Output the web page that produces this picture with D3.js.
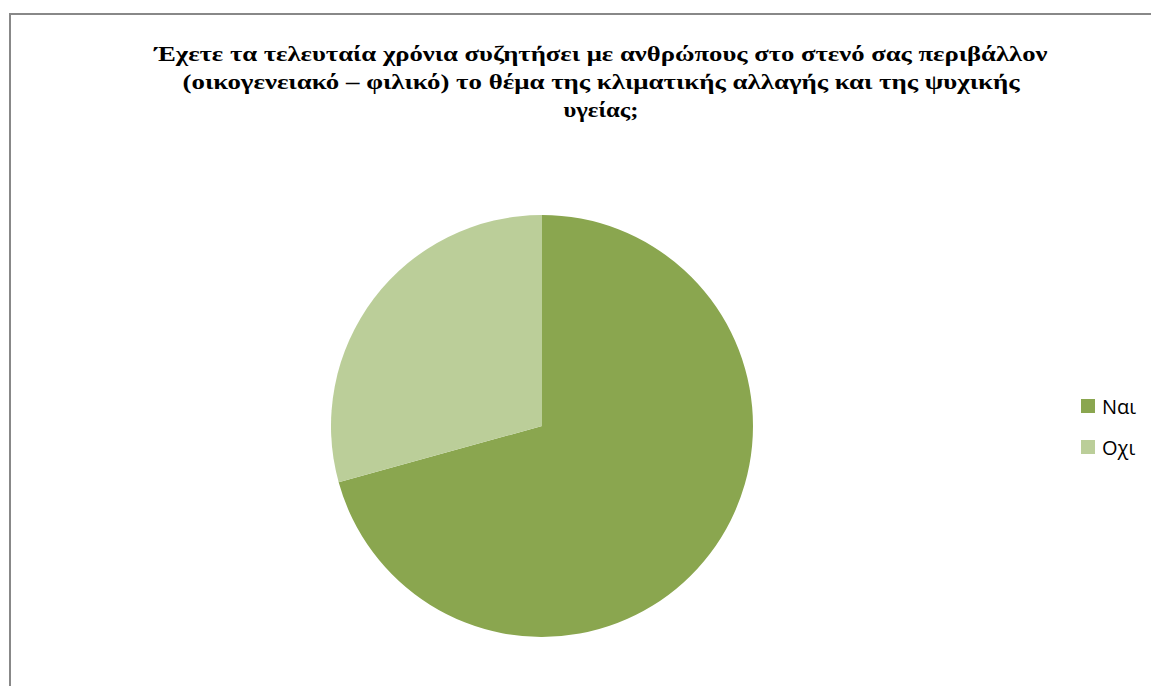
<!DOCTYPE html>
<html>
<head>
<meta charset="utf-8">
<script src="https://cdn.jsdelivr.net/npm/d3@7"></script>
<style>
  html, body { margin: 0; padding: 0; background: #fff; }
  svg { display: block; }
</style>
</head>
<body>
<svg id="chart" width="1151" height="686"></svg>
<script>
// Survey answers (share of respondents, %)
const categories = ["Ναι", "Οχι"];
const values = [70.7, 29.3];
const colors = ["#8aa64f", "#bbce99"];
const titleLines = [
  "Έχετε τα τελευταία χρόνια συζητήσει με ανθρώπους στο στενό σας περιβάλλον",
  "(οικογενειακό – φιλικό) το θέμα της κλιματικής αλλαγής και της ψυχικής",
  "υγείας;"
];
// rendered width of each title line
const titleWidths = [893, 837, 75];

const svg = d3.select("#chart");

// chart frame
svg.append("rect")
  .attr("x", 10).attr("y", 14)
  .attr("width", 1160).attr("height", 700)
  .attr("fill", "#fff")
  .attr("stroke", "#888").attr("stroke-width", 2);

// title
const title = svg.append("text")
  .attr("text-anchor", "middle")
  .attr("font-family", "'Liberation Serif', 'Times New Roman', serif")
  .attr("font-weight", "bold")
  .attr("font-size", 22)
  .attr("fill", "#000");
titleLines.forEach((line, i) => {
  title.append("tspan")
    .attr("x", 601)
    .attr("y", 61 + i * 28)
    .attr("textLength", titleWidths[i])
    .attr("lengthAdjust", "spacingAndGlyphs")
    .text(line);
});

// pie
const cx = 542, cy = 426, r = 211;
const pie = d3.pie().sort(null).value(d => d.v);
const arc = d3.arc().innerRadius(0).outerRadius(r);
const data = categories.map((c, i) => ({ c, v: values[i], col: colors[i] }));

svg.append("g")
  .attr("transform", `translate(${cx},${cy})`)
  .selectAll("path")
  .data(pie(data))
  .join("path")
  .attr("d", arc)
  .attr("fill", d => d.data.col);

// legend
const legend = svg.append("g").attr("transform", "translate(1081,399)");
const items = legend.selectAll("g")
  .data(data)
  .join("g")
  .attr("transform", (d, i) => `translate(0,${i * 41})`);
items.append("rect")
  .attr("width", 14).attr("height", 14)
  .attr("fill", d => d.col);
items.append("text")
  .attr("x", 21).attr("y", 15)
  .attr("font-family", "'Open Sans', 'Noto Sans', sans-serif")
  .attr("font-size", 20)
  .attr("fill", "#000")
  .text(d => d.c);
</script>
</body>
</html>
